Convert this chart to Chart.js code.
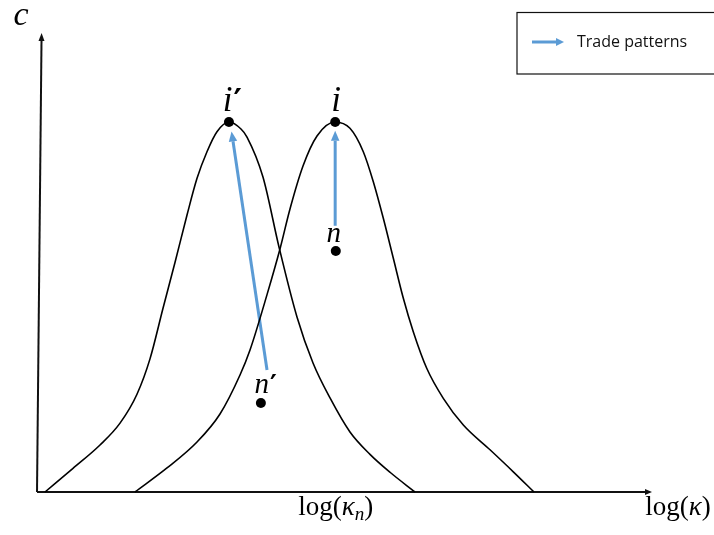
<!DOCTYPE html>
<html>
<head>
<meta charset="utf-8">
<script src="https://cdn.jsdelivr.net/npm/chart.js@4/dist/chart.umd.min.js"></script>
<style>
body { margin: 0; background: #fff; }
#wrap { width: 714px; height: 535px; }
</style>
</head>
<body>
<div id="wrap"><canvas id="chart" width="714" height="535"></canvas></div>
<script>
// curve for the destination i' (left bell)
var curve1X = [0.114, 0.570, 1.010, 1.336, 1.612, 1.824, 2.036, 2.231, 2.427, 2.590, 2.752, 2.915, 3.116, 3.306, 3.404, 3.664, 3.925, 4.218, 4.479, 4.756, 5.081, 5.407, 5.733, 6.140];
var curve1Y = [0, 0.516, 1.024, 1.500, 2.130, 2.900, 4.002, 5.000, 6.035, 6.834, 7.414, 7.850, 8.061, 7.908, 7.734, 6.863, 5.338, 3.813, 2.810, 2.048, 1.307, 0.820, 0.430, 0];
// curve for the destination i (right bell)
var curve2X = [1.580, 2.101, 2.590, 2.964, 3.290, 3.453, 3.730, 3.941, 4.104, 4.316, 4.544, 4.837, 5.081, 5.298, 5.461, 5.624, 5.787, 5.950, 6.112, 6.331, 6.601, 6.927, 7.362, 7.741, 8.078];
var curve2Y = [0, 0.523, 1.089, 1.699, 2.549, 3.094, 4.300, 5.294, 6.166, 7.102, 7.756, 8.061, 7.924, 7.414, 6.760, 5.963, 5.092, 4.220, 3.492, 2.695, 2.041, 1.460, 0.920, 0.440, 0];

// the four dots
var pointNames = ["i", "i", "n", "n"];
var pointPrime = [true, false, false, true];
var pointX = [3.11, 4.84, 4.85, 3.63];
var pointY = [8.06, 8.06, 5.25, 1.94];

// trade pattern arrows (start -> base of the head)
var arrow1X = [3.73, 3.176];
var arrow1Y = [2.66, 7.64];
var arrow2X = [4.84, 4.84];
var arrow2Y = [5.80, 7.65];

var legendText = "Trade patterns";
var blue = "#5B9BD5";

function toXY(xs, ys) {
  var out = [];
  for (var i = 0; i < xs.length; i++) out.push({x: xs[i], y: ys[i]});
  return out;
}

function arrowHead(ctx, x0, y0, x1, y1, len, w, color) {
  var dx = x1 - x0, dy = y1 - y0;
  var d = Math.sqrt(dx * dx + dy * dy);
  var ux = dx / d, uy = dy / d;
  ctx.save();
  ctx.fillStyle = color;
  ctx.beginPath();
  ctx.moveTo(x1 + ux * len, y1 + uy * len);
  ctx.lineTo(x1 - uy * w / 2, y1 + ux * w / 2);
  ctx.lineTo(x1 + uy * w / 2, y1 - ux * w / 2);
  ctx.closePath();
  ctx.fill();
  ctx.restore();
}

// writes an italic math letter, with optional prime
function mathLetter(ctx, txt, prime, cx, baseline, size) {
  var it = "italic " + size + "px 'Liberation Serif'";
  var pf = "bold " + Math.round(size * 0.9) + "px 'DejaVu Serif'";
  ctx.font = it;
  var w = ctx.measureText(txt).width;
  var pw = 0;
  if (prime) {
    ctx.font = pf;
    pw = ctx.measureText("\u2032").width;
  }
  var x = cx - w / 2;
  if (prime) x = cx - (w + pw * 0.3) / 2;
  ctx.font = it;
  ctx.textAlign = "left";
  ctx.textBaseline = "alphabetic";
  ctx.fillText(txt, x, baseline);
  if (prime) {
    ctx.font = pf;
    ctx.fillText("\u2032", x + w + 1, baseline);
  }
}

// log(kappa) style label, sub is optional subscript
function logLabel(ctx, cx, baseline, size, sub) {
  var up = size + "px 'Liberation Serif'";
  var it = "italic " + size + "px 'Liberation Serif'";
  var subf = "italic " + Math.round(size * 0.7) + "px 'Liberation Serif'";
  var parts = [[up, "log(", 0], [it, "\u03BA", 0]];
  if (sub) parts.push([subf, sub, size * 0.18]);
  parts.push([up, ")", 0]);
  var total = 0;
  for (var i = 0; i < parts.length; i++) {
    ctx.font = parts[i][0];
    total += ctx.measureText(parts[i][1]).width;
  }
  var x = cx - total / 2;
  ctx.textAlign = "left";
  ctx.textBaseline = "alphabetic";
  for (var i = 0; i < parts.length; i++) {
    ctx.font = parts[i][0];
    ctx.fillText(parts[i][1], x, baseline + parts[i][2]);
    x += ctx.measureText(parts[i][1]).width;
  }
}

var decorations = {
  id: "decorations",
  beforeDatasetsDraw: function(chart) {
    var ctx = chart.ctx;
    var xs = chart.scales.x, ys = chart.scales.y;
    var ox = xs.getPixelForValue(0), oy = ys.getPixelForValue(0);
    var right = xs.getPixelForValue(10), top = ys.getPixelForValue(10);
    ctx.save();
    ctx.strokeStyle = "#111";
    ctx.lineWidth = 2;
    // x axis
    ctx.beginPath();
    ctx.moveTo(ox - 1, oy);
    ctx.lineTo(right - 7, oy);
    ctx.stroke();
    arrowHead(ctx, ox, oy, right - 7, oy, 7, 6, "#111");
    // y axis, the original leans a bit
    ctx.beginPath();
    ctx.moveTo(ox - 1, oy);
    ctx.lineTo(ox + 3.5, top + 8);
    ctx.stroke();
    arrowHead(ctx, ox - 1, oy, ox + 3.5, top + 8, 8, 6, "#111");
    ctx.restore();
  },
  afterDatasetsDraw: function(chart) {
    var ctx = chart.ctx;
    var xs = chart.scales.x, ys = chart.scales.y;
    ctx.save();
    // arrow heads on the trade arrows
    [3, 4].forEach(function(di) {
      var pts = chart.getDatasetMeta(di).data;
      var a = pts[pts.length - 2], b = pts[pts.length - 1];
      arrowHead(ctx, a.x, a.y, b.x, b.y, 10, 8.5, blue);
    });
    ctx.fillStyle = "#000";
    // dot labels
    var offs = [[0, -11, 35], [1, -11, 35], [-2, -9, 29], [2, -10, 29]];
    for (var i = 0; i < pointX.length; i++) {
      var px = xs.getPixelForValue(pointX[i]), py = ys.getPixelForValue(pointY[i]);
      mathLetter(ctx, pointNames[i], pointPrime[i], px + offs[i][0], py + offs[i][1], offs[i][2]);
    }
    // axis labels
    mathLetter(ctx, "c", false, 21, 25, 34);
    logLabel(ctx, xs.getPixelForValue(4.85), 515, 27, "n");
    logLabel(ctx, 678, 515, 27, null);
    // legend box
    ctx.strokeStyle = "#111";
    ctx.lineWidth = 1.2;
    ctx.strokeRect(517, 12.5, 200, 61.5);
    ctx.strokeStyle = blue;
    ctx.lineWidth = 3;
    ctx.beginPath();
    ctx.moveTo(532, 42);
    ctx.lineTo(556, 42);
    ctx.stroke();
    arrowHead(ctx, 532, 42, 556, 42, 8, 8, blue);
    ctx.fillStyle = "#111";
    ctx.font = "16px 'Open Sans'";
    ctx.textBaseline = "middle";
    ctx.fillText(legendText, 577, 42);
    ctx.restore();
  }
};

var ctx = document.getElementById("chart").getContext("2d");
var chart = new Chart(ctx, {
  type: "line",
  data: {
    datasets: [
      {data: toXY(curve1X, curve1Y), borderColor: "#000", borderWidth: 1.6, pointRadius: 0, cubicInterpolationMode: "monotone", fill: false},
      {data: toXY(curve2X, curve2Y), borderColor: "#000", borderWidth: 1.6, pointRadius: 0, cubicInterpolationMode: "monotone", fill: false},
      {data: toXY(pointX, pointY), showLine: false, pointRadius: 5, pointBackgroundColor: "#000", pointBorderColor: "#000", pointBorderWidth: 0},
      {data: toXY(arrow1X, arrow1Y), borderColor: blue, borderWidth: 3, pointRadius: 0, tension: 0, borderCapStyle: "butt"},
      {data: toXY(arrow2X, arrow2Y), borderColor: blue, borderWidth: 3, pointRadius: 0, tension: 0, borderCapStyle: "butt"}
    ]
  },
  options: {
    responsive: false,
    animation: false,
    layout: {padding: {left: 38, right: 62, top: 33, bottom: 43}},
    plugins: {legend: {display: false}, tooltip: {enabled: false}},
    scales: {
      x: {type: "linear", min: 0, max: 10, display: false},
      y: {type: "linear", min: 0, max: 10, display: false}
    },
    clip: false
  },
  plugins: [decorations]
});
</script>
</body>
</html>
